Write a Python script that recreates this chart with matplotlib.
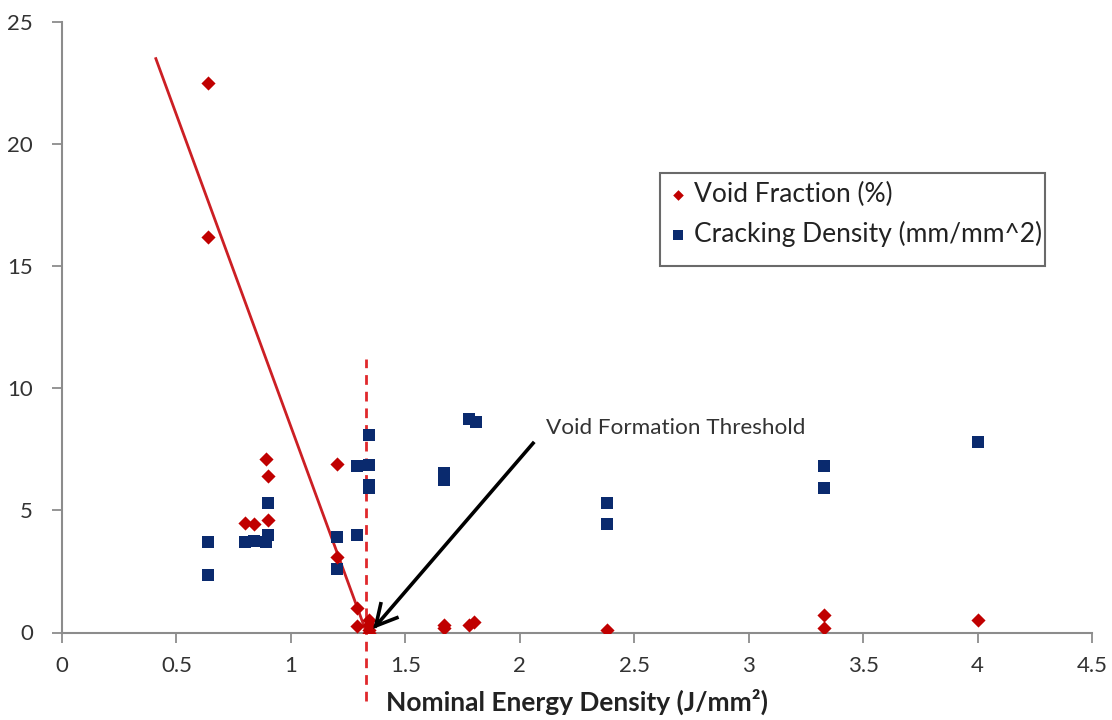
import matplotlib
matplotlib.use("Agg")
import matplotlib.pyplot as plt
from matplotlib.patches import Rectangle

# Void fraction (%) versus nominal energy density (J/mm^2)
void_x = [0.64, 0.64, 0.89, 0.90, 0.80, 0.84, 0.90, 1.20, 1.20, 1.29, 1.29,
          1.34, 1.34, 1.34, 1.34, 1.67, 1.67, 1.78, 1.80, 2.38, 3.33, 3.33, 4.00]
void_y = [22.5, 16.2, 7.1, 6.4, 4.5, 4.45, 4.6, 6.9, 3.1, 1.0, 0.25,
          0.5, 0.3, 0.1, 0.0, 0.3, 0.2, 0.3, 0.45, 0.1, 0.7, 0.2, 0.5]

# Cracking density (mm/mm^2) versus nominal energy density
crack_x = [0.64, 0.64, 0.80, 0.84, 0.89, 0.90, 0.90, 1.20, 1.20, 1.29, 1.29,
           1.34, 1.34, 1.34, 1.34, 1.67, 1.67, 1.78, 1.81, 2.38, 2.38,
           3.33, 3.33, 4.00]
crack_y = [3.7, 2.35, 3.7, 3.75, 3.7, 4.0, 5.3, 3.9, 2.6, 4.0, 6.8,
           8.1, 6.85, 6.05, 5.9, 6.55, 6.25, 8.75, 8.6, 5.3, 4.45,
           6.8, 5.9, 7.8]

# Trend line of void fraction down to the threshold
trend_x = [0.41, 1.33]
trend_y = [23.5, 0.0]

threshold_x = 1.33
threshold_span = [-2.8, 11.2]

# Annotation: label position, arrow tail and arrow head
note_xy = (2.115, 8.36)
arrow_tail = (2.058, 7.75)
arrow_head = (1.36, 0.15)

x_ticks = [0, 0.5, 1, 1.5, 2, 2.5, 3, 3.5, 4, 4.5]
x_tick_labels = ["0", "0.5", "1", "1.5", "2", "2.5", "3", "3.5", "4", "4.5"]
y_ticks = [0, 5, 10, 15, 20, 25]

FONT = ["Lato", "DejaVu Sans"]
plt.rcParams["font.family"] = FONT
TXT = "#333333"
AX = "#8c8c8c"

fig = plt.figure(figsize=(11.12, 7.2), dpi=100)
ax = fig.add_axes([62 / 1112, 1 - 632.5 / 720, 1030 / 1112, 610.5 / 720])

ax.plot(trend_x, trend_y, color="#cc1f24", lw=2.0, zorder=2)
ax.plot([threshold_x, threshold_x], threshold_span, color="#e0282c", lw=2.0,
        ls=(0, (3.5, 2.5)), clip_on=False, zorder=2)

ax.scatter(crack_x, crack_y, marker="s", s=75, color="#0a2a6e",
           label="Cracking Density (mm/mm^2)", zorder=3, linewidths=0)
ax.scatter(void_x, void_y, marker="D", s=52, color="#c00000",
           label="Void Fraction (%)", zorder=4, linewidths=0)

ax.text(note_xy[0], note_xy[1], "Void Formation Threshold", fontsize=16.2,
        color=TXT, va="center", ha="left", zorder=5)
ax.annotate("", xy=arrow_head, xytext=arrow_tail,
            arrowprops=dict(arrowstyle="->,head_length=0.6,head_width=0.32",
                            color="black", lw=2.6, mutation_scale=24,
                            shrinkA=0, shrinkB=0, joinstyle="miter",
                            capstyle="projecting"),
            zorder=5)

ax.set_xlim(0, 4.5)
ax.set_ylim(0, 25)
ax.set_xticks(x_ticks)
ax.set_xticklabels(x_tick_labels)
ax.set_yticks(y_ticks)

for s in ("top", "right"):
    ax.spines[s].set_visible(False)
for s in ("left", "bottom"):
    ax.spines[s].set_color(AX)
    ax.spines[s].set_linewidth(1.5)

ax.tick_params(axis="both", direction="out", length=7, width=1.3, color=AX,
               labelsize=16, labelcolor=TXT)
ax.tick_params(axis="x", pad=10)
ax.tick_params(axis="y", pad=14)

ax.set_xlabel("Nominal Energy Density (J/mm²)", fontsize=19, fontweight="bold",
              color="#222222", labelpad=9)

# Legend entries without a frame, boxed by a separate rectangle
handles, labels = ax.get_legend_handles_labels()
order = [1, 0]
leg = ax.legend([handles[i] for i in order], [labels[i] for i in order],
                loc="center left", bbox_to_anchor=(0.5895, 0.685),
                fontsize=19, frameon=False, handletextpad=0.25,
                handlelength=0.7, labelspacing=0.5, borderpad=0.0,
                borderaxespad=0.0, markerscale=0.75)
for t in leg.get_texts():
    t.set_color("#222222")
ax.add_patch(Rectangle((0.581, 0.6003), 0.3738, 0.1523, transform=ax.transAxes,
                       fill=True, facecolor="none", edgecolor="#6a6a6a",
                       lw=1.5, zorder=6, clip_on=False))

fig.savefig("out.png", dpi=100)
